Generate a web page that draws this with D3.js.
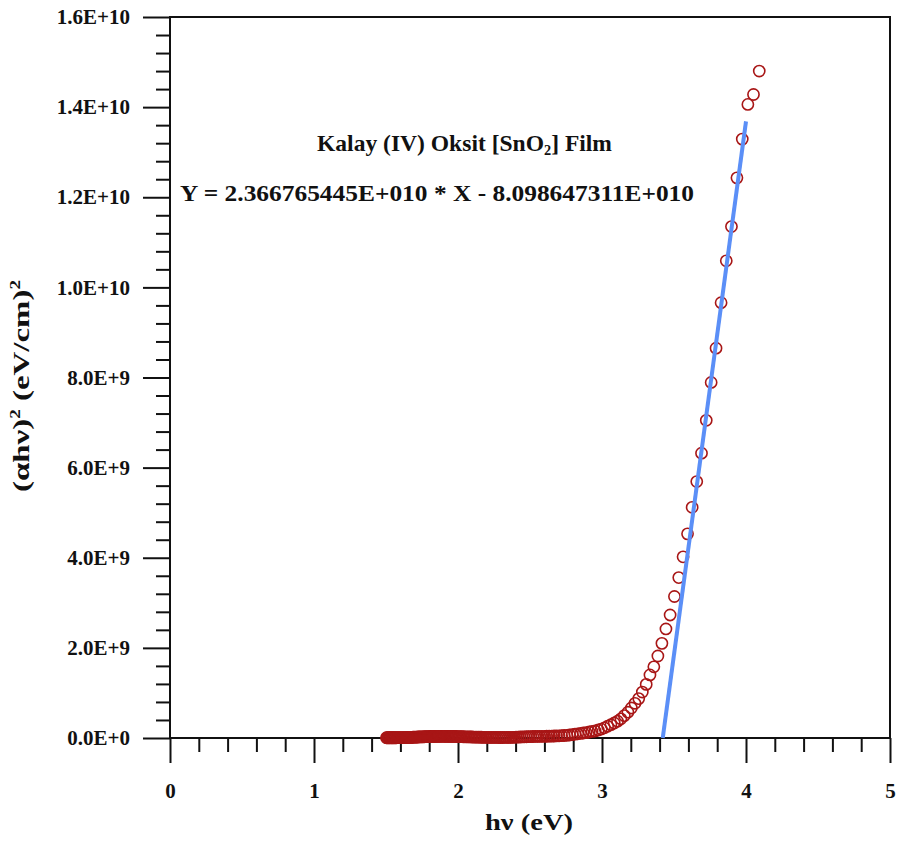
<!DOCTYPE html>
<html>
<head>
<meta charset="utf-8">
<script src="https://cdn.jsdelivr.net/npm/d3@7"></script>
<style>
  html, body { margin: 0; padding: 0; background: #ffffff; }
  svg { display: block; }
  text { font-family: "Liberation Serif", "Times New Roman", serif; font-weight: bold; fill: #111; }
</style>
</head>
<body>
<svg id="chart" width="898" height="841"></svg>
<script>
// Photon energy hν (eV) of each measured point
const photonEnergy = [
  4.092, 4.052, 4.013, 3.974, 3.937, 3.899, 3.863, 3.827, 3.792, 3.758,
  3.724, 3.691, 3.658, 3.626, 3.594, 3.563, 3.533, 3.503, 3.473, 3.444,
  3.416, 3.388, 3.360, 3.333, 3.307, 3.280, 3.255, 3.229, 3.204, 3.180,
  3.155, 3.131, 3.108, 3.085, 3.062, 3.039, 3.017, 2.995, 2.974, 2.952,
  2.931, 2.911, 2.890, 2.870, 2.851, 2.831, 2.812, 2.793, 2.774, 2.756,
  2.737, 2.719, 2.702, 2.684, 2.667, 2.650, 2.633, 2.616, 2.600, 2.583,
  2.567, 2.551, 2.536, 2.520, 2.505, 2.490, 2.475, 2.460, 2.446, 2.431,
  2.417, 2.403, 2.389, 2.376, 2.362, 2.349, 2.335, 2.322, 2.309, 2.296,
  2.284, 2.271, 2.259, 2.246, 2.234, 2.222, 2.210, 2.199, 2.187, 2.175,
  2.164, 2.153, 2.142, 2.131, 2.120, 2.109, 2.098, 2.088, 2.077, 2.067,
  2.056, 2.046, 2.036, 2.026, 2.016, 2.007, 1.997, 1.987, 1.978, 1.968,
  1.959, 1.950, 1.941, 1.932, 1.923, 1.914, 1.905, 1.896, 1.887, 1.879,
  1.870, 1.862, 1.854, 1.845, 1.837, 1.829, 1.821, 1.813, 1.805, 1.797,
  1.789, 1.782, 1.774, 1.766, 1.759, 1.751, 1.744, 1.737, 1.729, 1.722,
  1.715, 1.708, 1.701, 1.694, 1.687, 1.680, 1.673, 1.667, 1.660, 1.653,
  1.647, 1.640, 1.634, 1.627, 1.621, 1.615, 1.608, 1.602, 1.596, 1.590,
  1.584, 1.578, 1.572, 1.566, 1.560, 1.554, 1.548, 1.542, 1.537, 1.531,
  1.525, 1.520, 1.514, 1.508, 1.503
];

// (αhν)² in units of 1E+9 (eV/cm)²
const absorptionSq = [
  14.80, 14.28, 14.06, 13.29, 12.43, 11.35, 10.59, 9.66, 8.65, 7.89,
  7.05, 6.32, 5.69, 5.12, 4.53, 4.02, 3.56, 3.14, 2.73, 2.42,
  2.10, 1.82, 1.58, 1.40, 1.19, 1.02, 0.874, 0.770, 0.666, 0.573,
  0.497, 0.426, 0.373, 0.333, 0.295, 0.262, 0.226, 0.198, 0.178, 0.155,
  0.146, 0.133, 0.118, 0.111, 0.102, 0.093, 0.084, 0.075, 0.067, 0.060,
  0.056, 0.052, 0.049, 0.046, 0.044, 0.042, 0.040, 0.039, 0.038, 0.037,
  0.036, 0.035, 0.034, 0.033, 0.031, 0.030, 0.028, 0.026, 0.024, 0.022,
  0.020, 0.018, 0.016, 0.015, 0.014, 0.013, 0.012, 0.012, 0.011, 0.011,
  0.011, 0.012, 0.012, 0.013, 0.013, 0.014, 0.014, 0.015, 0.016, 0.016,
  0.017, 0.018, 0.018, 0.019, 0.020, 0.021, 0.022, 0.023, 0.024, 0.025,
  0.026, 0.027, 0.028, 0.029, 0.030, 0.031, 0.032, 0.033, 0.034, 0.034,
  0.035, 0.035, 0.036, 0.036, 0.036, 0.037, 0.037, 0.037, 0.037, 0.037,
  0.037, 0.036, 0.036, 0.036, 0.035, 0.035, 0.034, 0.034, 0.033, 0.032,
  0.031, 0.030, 0.029, 0.028, 0.027, 0.026, 0.025, 0.024, 0.023, 0.022,
  0.021, 0.020, 0.019, 0.018, 0.017, 0.016, 0.015, 0.014, 0.013, 0.012,
  0.011, 0.010, 0.010, 0.009, 0.009, 0.008, 0.008, 0.008, 0.007, 0.007,
  0.007, 0.007, 0.006, 0.006, 0.006, 0.006, 0.006, 0.005, 0.005, 0.005,
  0.005, 0.005, 0.005, 0.005, 0.005
];

// Linear fit of the absorption edge: Y = slope * X + intercept
const fitSlope = 2.366765445e10;
const fitIntercept = -8.098647311e10;
const fitEnd = 4.0;

// Axis ticks
const xTickValues = [0, 1, 2, 3, 4, 5];
const xTickLabels = ["0", "1", "2", "3", "4", "5"];
const yTickValues = [0, 2, 4, 6, 8, 10, 12, 14, 16];   // 1E+9 units
const yTickLabels = ["0.0E+0", "2.0E+9", "4.0E+9", "6.0E+9", "8.0E+9",
                     "1.0E+10", "1.2E+10", "1.4E+10", "1.6E+10"];

const titleText = ["Kalay (IV) Oksit [SnO", "2", "] Film"];
const equationText = "Y = 2.366765445E+010 * X - 8.098647311E+010";

const svg = d3.select("#chart");
const plotLeft = 170, plotRight = 890, plotTop = 17, plotBottom = 738;

const x = d3.scaleLinear().domain([0, 5]).range([plotLeft, plotRight]);
const y = d3.scaleLinear().domain([0, 16]).range([plotBottom, plotTop]);

// Minor ticks
const xMinor = d3.range(0, 5.0001, 0.2).filter(v => Math.abs(v - Math.round(v)) > 1e-6);
const yMinor = d3.range(0, 16.0001, 0.4).filter(v => Math.abs(v / 2 - Math.round(v / 2)) > 1e-6);

function styleAxis(g) {
  g.select(".domain").remove();
  g.selectAll(".tick line").attr("stroke", "#111").attr("stroke-width", 2);
}

svg.append("g")
  .attr("transform", `translate(0,${plotBottom})`)
  .call(d3.axisBottom(x).tickValues(xMinor).tickSize(14).tickFormat(""))
  .call(styleAxis);

svg.append("g")
  .attr("transform", `translate(0,${plotBottom})`)
  .call(d3.axisBottom(x).tickValues(xTickValues).tickSize(25).tickPadding(20)
        .tickFormat((d, i) => xTickLabels[i]))
  .call(styleAxis)
  .call(g => g.selectAll(".tick text")
      .attr("font-family", "Liberation Serif").attr("font-weight", "bold")
      .attr("font-size", 21).attr("fill", "#111"));

svg.append("g")
  .attr("transform", `translate(${plotLeft},0)`)
  .call(d3.axisLeft(y).tickValues(yMinor).tickSize(14).tickFormat(""))
  .call(styleAxis);

svg.append("g")
  .attr("transform", `translate(${plotLeft},0)`)
  .call(d3.axisLeft(y).tickValues(yTickValues).tickSize(27).tickPadding(13)
        .tickFormat((d, i) => yTickLabels[i]))
  .call(styleAxis)
  .call(g => g.selectAll(".tick text")
      .attr("font-family", "Liberation Serif").attr("font-weight", "bold")
      .attr("font-size", 21).attr("fill", "#111"));

// Frame
svg.append("rect")
  .attr("x", plotLeft).attr("y", plotTop)
  .attr("width", plotRight - plotLeft).attr("height", plotBottom - plotTop)
  .attr("fill", "none").attr("stroke", "#111").attr("stroke-width", 2);

// Data points
const points = photonEnergy.map((e, i) => ({ e, v: absorptionSq[i] }));
svg.append("g")
  .selectAll("circle")
  .data(points)
  .join("circle")
  .attr("cx", d => x(d.e))
  .attr("cy", d => y(d.v))
  .attr("r", 5.6)
  .attr("fill", "none")
  .attr("stroke", "#a81616")
  .attr("stroke-width", 1.6);

// Fitted line from the energy axis intercept to the end of the fit range
const fitStart = -fitIntercept / fitSlope;
const fitPoints = [fitStart, fitEnd].map(e => ({ e, v: (fitSlope * e + fitIntercept) / 1e9 }));
svg.append("path")
  .datum(fitPoints)
  .attr("d", d3.line().x(d => x(d.e)).y(d => y(d.v)))
  .attr("fill", "none")
  .attr("stroke", "#5b8ff7")
  .attr("stroke-width", 4);

// Annotation
const title = svg.append("text")
  .attr("x", 317).attr("y", 151)
  .attr("font-size", 23)
  .attr("textLength", 295)
  .attr("lengthAdjust", "spacingAndGlyphs");
title.append("tspan").text(titleText[0]);
title.append("tspan").attr("font-size", 14).attr("dy", 4).text(titleText[1]);
title.append("tspan").attr("dy", -4).text(titleText[2]);

svg.append("text")
  .attr("x", 180).attr("y", 201)
  .attr("font-size", 23)
  .attr("textLength", 514)
  .attr("lengthAdjust", "spacingAndGlyphs")
  .text(equationText);

// Axis titles
svg.append("text")
  .attr("x", 485).attr("y", 830)
  .attr("font-size", 24)
  .attr("textLength", 88)
  .attr("lengthAdjust", "spacingAndGlyphs")
  .text("hν (eV)");

const yTitle = svg.append("text")
  .attr("transform", "translate(29,492) rotate(-90)")
  .attr("font-size", 24)
  .attr("textLength", 212)
  .attr("lengthAdjust", "spacingAndGlyphs");
yTitle.append("tspan").text("(αhν)");
yTitle.append("tspan").attr("font-size", 14).attr("dy", -9).text("2");
yTitle.append("tspan").attr("dy", 9).text(" (eV/cm)");
yTitle.append("tspan").attr("font-size", 14).attr("dy", -9).text("2");
</script>
</body>
</html>
